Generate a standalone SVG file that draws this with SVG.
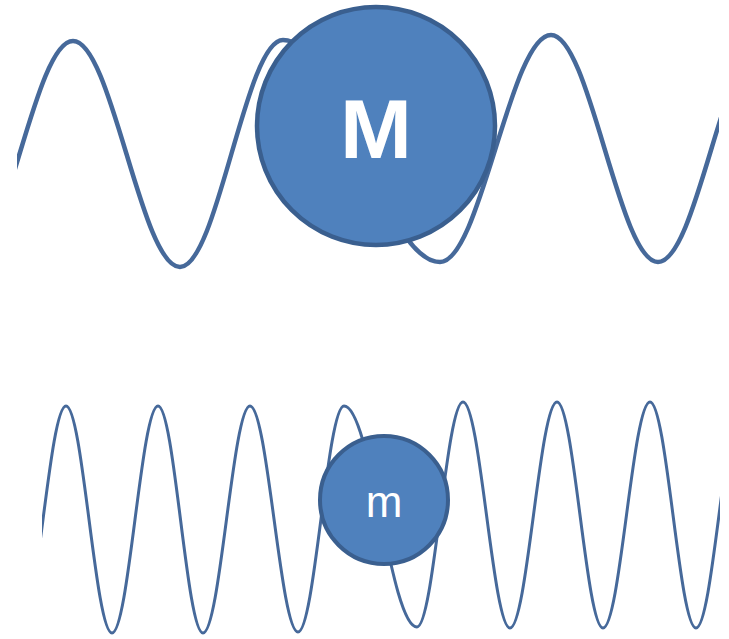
<svg xmlns="http://www.w3.org/2000/svg" width="729" height="639" viewBox="0 0 729 639">
  <style>
    .wave { fill: none; stroke: #46699a; stroke-linejoin: round; }
    .mass { fill: #4f81bd; stroke: #3a5f8f; }
    .label { fill: #ffffff; font-family: "Liberation Sans", Arial, sans-serif; text-anchor: middle; }
  </style>
  <defs>
    <clipPath id="clipTop"><rect x="17" y="0" width="702" height="300"/></clipPath>
    <clipPath id="clipBottom"><rect x="42" y="380" width="678" height="259"/></clipPath>
  </defs>
  <rect x="0" y="0" width="729" height="639" fill="#ffffff"/>
  <g id="connectors">
    <path id="waveTop" class="wave" stroke-width="4.5" clip-path="url(#clipTop)"
      d="M-34,267 C4.9,267 34.1,41 73,41 C111.9,41 141.1,267 180,267 C217.5,267 245.5,40 283,40 C340.1,40 382.9,262 440,262 C480.4,262 510.6,35 551,35 C589.9,35 619.1,262 658,262 C696.9,262 726.1,35 765,35"/>
    <path id="waveBottom" class="wave" stroke-width="3" clip-path="url(#clipBottom)"
      d="M20,633 C36.7,633 49.3,406 66,406 C82.7,406 95.3,633 112,633 C128.7,633 141.3,406 158,406 C174.4,406 186.6,633 203,633 C220.1,633 232.9,406 250,406 C267.5,406 280.5,632 298,632 C314.7,632 327.3,406 344,406 C370.6,406 390.4,627 417,627 C433.7,627 446.3,402 463,402 C480.1,402 492.9,628 510,628 C527.1,628 539.9,402 557,402 C573.7,402 586.3,628 603,628 C620.1,628 632.9,402 650,402 C666.7,402 679.3,628 696,628 C712.7,628 725.3,402 742,402"/>
  </g>
  <g id="massM">
    <circle class="mass" cx="376" cy="126" r="119" stroke-width="4.5"/>
    <text class="label" x="376" y="158" font-size="84" font-weight="bold" textLength="72" lengthAdjust="spacingAndGlyphs">M</text>
  </g>
  <g id="massm">
    <circle class="mass" cx="384" cy="500" r="64" stroke-width="4"/>
    <text class="label" x="384" y="517" font-size="44">m</text>
  </g>
</svg>
